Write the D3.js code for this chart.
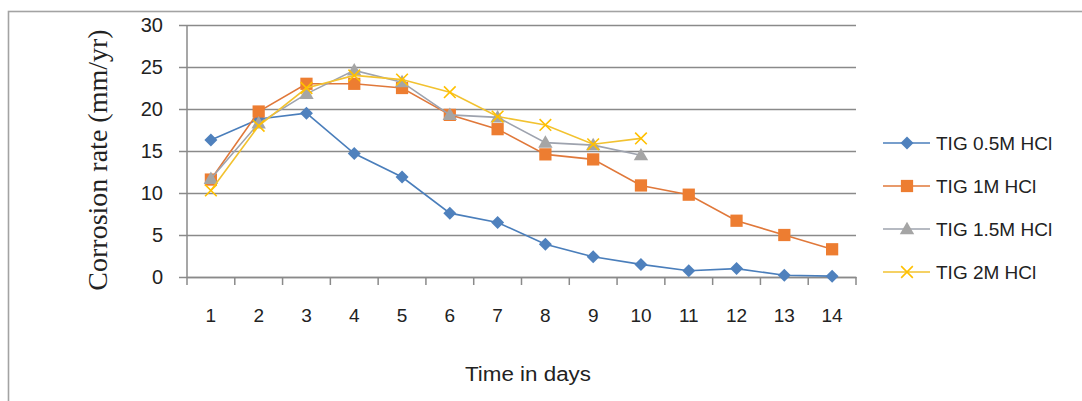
<!DOCTYPE html>
<html>
<head>
<meta charset="utf-8">
<script src="https://cdn.jsdelivr.net/npm/d3@7"></script>
<style>
  html, body { margin: 0; padding: 0; background: #fff; }
  svg { display: block; }
</style>
</head>
<body>
<svg id="chart" width="1082" height="401"></svg>
<script>
// ---- data ----
const days = [1, 2, 3, 4, 5, 6, 7, 8, 9, 10, 11, 12, 13, 14];
const yTicks = [0, 5, 10, 15, 20, 25, 30];
const seriesNames = ["TIG 0.5M HCl", "TIG 1M HCl", "TIG 1.5M HCl", "TIG 2M HCl"];
const tig05 = [16.3, 18.8, 19.5, 14.7, 11.9, 7.6, 6.5, 3.9, 2.4, 1.5, 0.75, 1.0, 0.2, 0.1];
const tig1  = [11.6, 19.7, 23.0, 23.0, 22.5, 19.3, 17.6, 14.6, 14.0, 10.9, 9.8, 6.7, 5.0, 3.3];
const tig15 = [11.7, 18.3, 21.8, 24.6, 23.2, 19.3, 19.0, 16.0, 15.7, 14.5];
const tig2  = [10.3, 18.0, 22.5, 24.0, 23.5, 22.0, 19.1, 18.1, 15.8, 16.5];

const series = [
  { name: seriesNames[0], values: tig05, color: "#4F81BD", line: "#4A7EBB", marker: "diamond" },
  { name: seriesNames[1], values: tig1,  color: "#ED7D31", line: "#E0783A", marker: "square" },
  { name: seriesNames[2], values: tig15, color: "#A5A5A5", line: "#9EA3AE", marker: "triangle" },
  { name: seriesNames[3], values: tig2,  color: "#FFC000", line: "#F2C230", marker: "x" }
];

const svg = d3.select("#chart");

// outer border
svg.append("rect")
  .attr("x", 8.5).attr("y", 11.5).attr("width", 1090).attr("height", 400)
  .attr("fill", "none").attr("stroke", "#a3a3a3").attr("stroke-width", 1.6);

const pLeft = 187, pRight = 856, pTop = 25, pBottom = 277;

const x = d3.scaleBand().domain(days).range([pLeft, pRight]).padding(0);
const y = d3.scaleLinear().domain([0, 30]).range([pBottom, pTop]);
const cx = d => x(d) + x.bandwidth() / 2;

// gridlines + y axis
const yAxis = d3.axisLeft(y).tickValues(yTicks).tickSize(-(pRight - pLeft)).tickPadding(24).tickFormat(d3.format("d"));
const gy = svg.append("g").attr("transform", `translate(${pLeft},0)`).call(yAxis);
gy.select(".domain").remove();
gy.selectAll(".tick line").attr("x1", -8).attr("stroke", "#8a8a8a").attr("stroke-width", 1.5);
gy.selectAll(".tick text").attr("font-family", "Liberation Sans, Arial, sans-serif")
  .attr("font-size", 20).attr("fill", "#222");
// y axis line
svg.append("line").attr("x1", pLeft).attr("x2", pLeft).attr("y1", pTop).attr("y2", pBottom)
  .attr("stroke", "#8a8a8a").attr("stroke-width", 1.5);

// x axis
const xAxis = d3.axisBottom(x).tickSize(0).tickPadding(32);
const gx = svg.append("g").attr("transform", `translate(0,${pBottom})`).call(xAxis);
gx.select(".domain").attr("stroke", "#8a8a8a").attr("stroke-width", 1.5);
gx.selectAll(".tick text").attr("font-family", "Liberation Sans, Arial, sans-serif")
  .attr("font-size", 19).attr("fill", "#222");
// boundary ticks
const bounds = days.map(d => x(d)).concat([x(days[days.length - 1]) + x.bandwidth()]);
svg.append("g").selectAll("line").data(bounds).join("line")
  .attr("x1", d => d).attr("x2", d => d).attr("y1", pBottom).attr("y2", pBottom + 8)
  .attr("stroke", "#8a8a8a").attr("stroke-width", 1.5);

// axis titles
svg.append("text")
  .attr("transform", `translate(97,160) rotate(-90)`)
  .attr("text-anchor", "middle").attr("dominant-baseline", "central")
  .attr("font-family", "Liberation Serif, Times New Roman, serif")
  .attr("font-size", 28).attr("fill", "#222")
  .text("Corrosion rate (mm/yr)");

svg.append("text")
  .attr("x", 528).attr("y", 381)
  .attr("text-anchor", "middle")
  .attr("font-family", "Liberation Sans, Arial, sans-serif")
  .attr("font-size", 20).attr("fill", "#222")
  .attr("textLength", 126).attr("lengthAdjust", "spacingAndGlyphs")
  .text("Time in days");

// markers
function drawMarker(g, type, color, px, py) {
  if (type === "diamond") {
    const r = 6.5;
    g.append("path").attr("d", `M0,${-r}L${r},0L0,${r}L${-r},0Z`)
      .attr("transform", `translate(${px},${py})`).attr("fill", color).attr("stroke", "none");
  } else if (type === "square") {
    g.append("path").attr("d", d3.symbol(d3.symbolSquare, 150)())
      .attr("transform", `translate(${px},${py})`).attr("fill", color).attr("stroke", "none");
  } else if (type === "triangle") {
    g.append("path").attr("d", d3.symbol(d3.symbolTriangle, 90)())
      .attr("transform", `translate(${px},${py + 1})`).attr("fill", color).attr("stroke", "none");
  } else if (type === "x") {
    g.append("path").attr("d", d3.symbol(d3.symbolX, 90)())
      .attr("transform", `translate(${px},${py})`).attr("fill", "none")
      .attr("stroke", color).attr("stroke-width", 1.6);
  }
}

const line = d3.line().x(d => cx(d.day)).y(d => y(d.v));

series.forEach(s => {
  const pts = s.values.map((v, i) => ({ day: days[i], v }));
  const g = svg.append("g");
  g.append("path").datum(pts).attr("d", line)
    .attr("fill", "none").attr("stroke", s.line).attr("stroke-width", 1.6);
  pts.forEach(p => drawMarker(g, s.marker, s.color, cx(p.day), y(p.v)));
});

// legend
const lg = svg.append("g");
series.forEach((s, i) => {
  const ly = 143 + i * 43;
  lg.append("line").attr("x1", 883).attr("x2", 930).attr("y1", ly).attr("y2", ly)
    .attr("stroke", s.line).attr("stroke-width", 1.6);
  drawMarker(lg, s.marker, s.color, 907, ly);
  lg.append("text").attr("x", 936).attr("y", ly).attr("dominant-baseline", "central")
    .attr("font-family", "Liberation Sans, Arial, sans-serif")
    .attr("font-size", 19).attr("fill", "#222")
    .text(s.name);
});
</script>
</body>
</html>
